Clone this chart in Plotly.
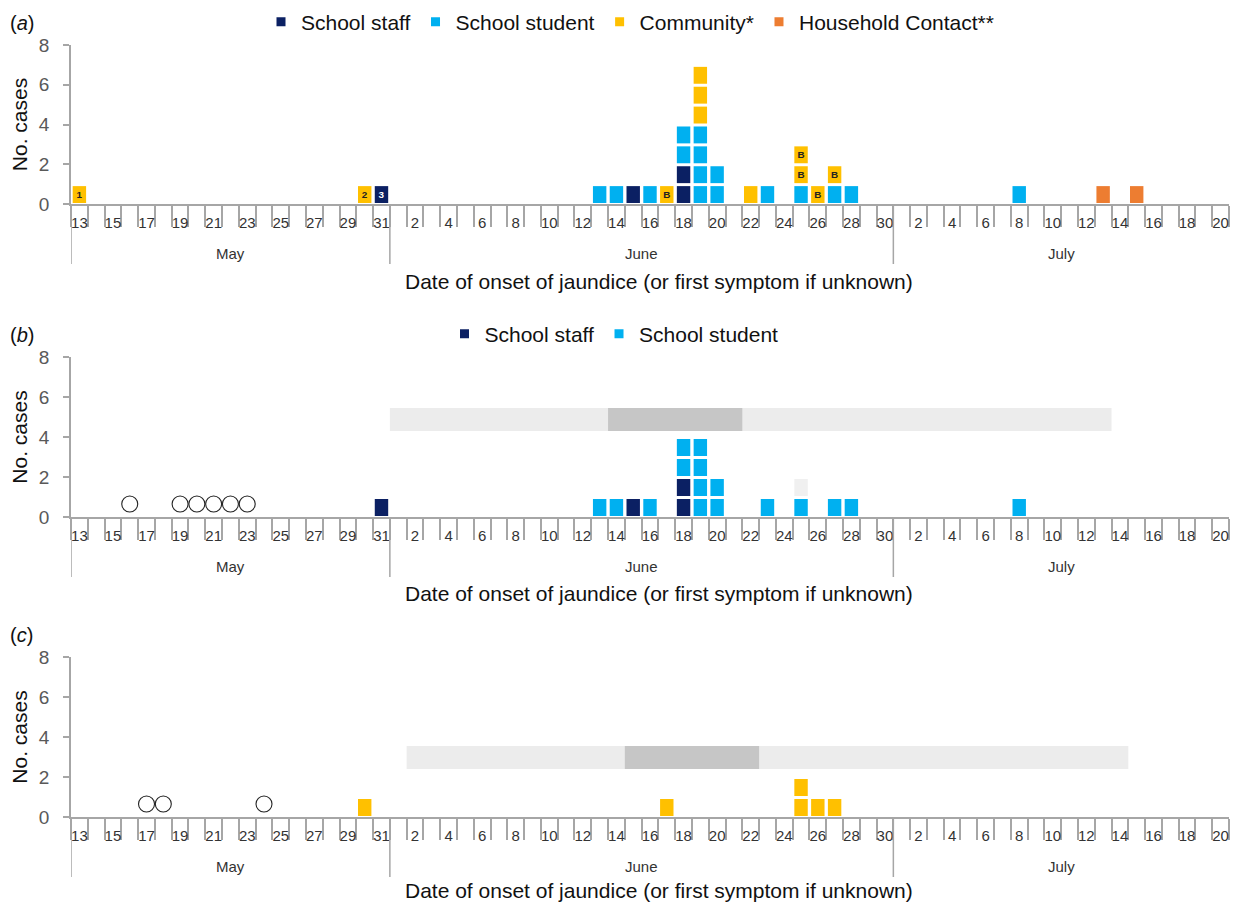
import plotly.graph_objects as go

# ---------------- categories (days) ----------------
MAY_DAYS = list(range(13, 32))
JUN_DAYS = list(range(1, 31))
JUL_DAYS = list(range(1, 21))
MONTH_NAMES = ["May", "June", "July"]

date_keys = ([f"May {d}" for d in MAY_DAYS] + [f"Jun {d}" for d in JUN_DAYS]
             + [f"Jul {d}" for d in JUL_DAYS])
day_labels = [str(d) for d in MAY_DAYS + JUN_DAYS + JUL_DAYS]
IDX = {k: i for i, k in enumerate(date_keys)}

# ---------------- panel (a) ----------------
a_staff_dates = ["May 31", "Jun 15", "Jun 18"]
a_staff_counts = [1, 1, 2]
a_staff_labels = ["3", "", ""]

a_student_dates = ["Jun 13", "Jun 14", "Jun 16", "Jun 18", "Jun 19", "Jun 20",
                   "Jun 23", "Jun 25", "Jun 27", "Jun 28", "Jul 8"]
a_student_counts = [1, 1, 1, 2, 4, 2, 1, 1, 1, 1, 1]

a_comm_dates = ["May 13", "May 30", "Jun 17", "Jun 19", "Jun 22", "Jun 25", "Jun 26", "Jun 27"]
a_comm_counts = [1, 1, 1, 3, 1, 2, 1, 1]
a_comm_labels = ["1", "2", "B", "", "", "BB", "B", "B"]

a_house_dates = ["Jul 13", "Jul 15"]
a_house_counts = [1, 1]

# ---------------- panel (b) ----------------
b_staff_dates = ["May 31", "Jun 15", "Jun 18"]
b_staff_counts = [1, 1, 2]
b_student_dates = ["Jun 13", "Jun 14", "Jun 16", "Jun 18", "Jun 19", "Jun 20",
                   "Jun 23", "Jun 25", "Jun 27", "Jun 28", "Jul 8"]
b_student_counts = [1, 1, 1, 2, 4, 2, 1, 1, 1, 1, 1]
b_unknown_dates = ["Jun 25"]
b_unknown_counts = [1]
b_circle_dates = ["May 16", "May 19", "May 20", "May 21", "May 22", "May 23"]
b_band_light = ["Jun 1", "Jul 13"]
b_band_dark = ["Jun 14", "Jun 21"]

# ---------------- panel (c) ----------------
c_comm_dates = ["May 30", "Jun 17", "Jun 25", "Jun 26", "Jun 27"]
c_comm_counts = [1, 1, 2, 1, 1]
c_circle_dates = ["May 17", "May 18", "May 24"]
c_band_light = ["Jun 2", "Jul 14"]
c_band_dark = ["Jun 15", "Jun 22"]

# ---------------- style ----------------
FONT = "Liberation Sans, Arial, sans-serif"
C_STAFF = "#0b2063"
C_STUDENT = "#00b0f0"
C_COMM = "#ffc000"
C_HOUSE = "#ed7d31"
C_UNKNOWN = "#f0f0f0"
C_LIGHT = "#ececec"
C_DARK = "#c6c6c6"
AXIS_C = "#a6a6a6"
W, H = 1236, 902
ML, MR = 71, 7
PW = W - ML - MR

UNIT_H = 0.85
UNIT_GAP = 0.05
BAR_W = 0.8
CIRCLE_Y = 0.65

# panel pixel geometry (top of y=8, y=0 line, x-title offset)
PANELS = [(45, 204, 77), (357, 517, 76), (657, 817, 73)]


def py(px):
    return 1 - px / H


def pxx(px):
    return (px - ML) / PW


fig = go.Figure()


def add_units(dates, counts, labels, color, offsets, ax, name, txtcolor="#222"):
    xs, bases, texts = [], [], []
    for i, (d, c) in enumerate(zip(dates, counts)):
        idx = IDX[d]
        lab = labels[i] if labels else ""
        start = offsets.get(idx, 0)
        for k in range(c):
            xs.append(idx)
            bases.append(start + k + UNIT_GAP)
            texts.append(lab[k] if k < len(lab) else "")
        offsets[idx] = start + c
    fig.add_trace(go.Bar(
        x=xs, y=[UNIT_H] * len(xs), base=bases, width=BAR_W,
        marker=dict(color=color, line=dict(width=0)),
        text=texts, textposition="inside", insidetextanchor="middle", textangle=0,
        textfont=dict(size=10, color=txtcolor, family=FONT, weight="bold"),
        name=name, showlegend=False, hoverinfo="skip",
        xaxis="x" + ax, yaxis="y" + ax,
    ))


def add_legend_entry(name, color, legend):
    fig.add_trace(go.Scatter(
        x=[None], y=[None], mode="markers", name=name,
        marker=dict(symbol="square", size=9, color=color),
        legend=legend, showlegend=True,
    ))


def add_circles(dates, ax):
    xs = [IDX[d] for d in dates]
    fig.add_trace(go.Scatter(
        x=xs, y=[CIRCLE_Y] * len(xs), mode="markers",
        marker=dict(symbol="circle-open", size=16, color="#222", line=dict(width=1.1)),
        showlegend=False, hoverinfo="skip", xaxis="x" + ax, yaxis="y" + ax,
    ))


band_shapes = []


def add_band(rng, y0, y1, color, ax):
    band_shapes.append(dict(type="rect", xref="x" + ax, yref="y" + ax,
                            x0=IDX[rng[0]] - 0.5, x1=IDX[rng[1]] + 0.5, y0=y0, y1=y1,
                            fillcolor=color, line=dict(width=0), layer="below"))


# panel a
off = {}
add_units(a_staff_dates, a_staff_counts, a_staff_labels, C_STAFF, off, "", "School staff", "white")
add_units(a_student_dates, a_student_counts, None, C_STUDENT, off, "", "School student")
add_units(a_comm_dates, a_comm_counts, a_comm_labels, C_COMM, off, "", "Community*")
add_units(a_house_dates, a_house_counts, None, C_HOUSE, off, "", "Household Contact**")
add_legend_entry("School staff", C_STAFF, "legend")
add_legend_entry("School student", C_STUDENT, "legend")
add_legend_entry("Community*", C_COMM, "legend")
add_legend_entry("Household Contact**", C_HOUSE, "legend")

# panel b
off = {}
add_units(b_staff_dates, b_staff_counts, None, C_STAFF, off, "2", "School staff")
add_units(b_student_dates, b_student_counts, None, C_STUDENT, off, "2", "School student")
add_units(b_unknown_dates, b_unknown_counts, None, C_UNKNOWN, off, "2", "")
add_circles(b_circle_dates, "2")
add_band(b_band_light, 4.3, 5.45, C_LIGHT, "2")
add_band(b_band_dark, 4.3, 5.45, C_DARK, "2")
add_legend_entry("School staff", C_STAFF, "legend2")
add_legend_entry("School student", C_STUDENT, "legend2")

# panel c
off = {}
add_units(c_comm_dates, c_comm_counts, None, C_COMM, off, "3", "Community*")
add_circles(c_circle_dates, "3")
add_band(c_band_light, 2.4, 3.55, C_LIGHT, "3")
add_band(c_band_dark, 2.4, 3.55, C_DARK, "3")

# axes
tickvals = list(range(0, len(date_keys), 2))
ticktext = [day_labels[i] for i in tickvals]
month_starts = [IDX["May 13"], IDX["Jun 1"], IDX["Jul 1"]]
month_ends = [IDX["May 31"], IDX["Jun 30"], IDX["Jul 20"]]

layout = dict(
    width=W, height=H, margin=dict(l=ML, r=MR, t=0, b=0, autoexpand=False),
    paper_bgcolor="white", plot_bgcolor="white",
    barmode="overlay", font=dict(family=FONT, color="#222"),
)
annotations = []
shapes = list(band_shapes)
for p, (top, bot, toff) in enumerate(PANELS):
    sfx = "" if p == 0 else str(p + 1)
    layout["xaxis" + sfx] = dict(
        domain=[0, 1], range=[-0.5, len(date_keys) - 0.5], anchor="y" + sfx,
        showline=True, linecolor=AXIS_C, linewidth=1.5, showgrid=False, zeroline=False,
        tickmode="array", tickvals=tickvals, ticktext=ticktext,
        ticks="outside", ticklen=0, tickcolor="white",
        ticklabelstandoff=4, ticklabeloverflow="allow",
        tickfont=dict(size=15, color="#333", family=FONT),
        minor=dict(ticks="outside", ticklen=21, tickcolor=AXIS_C, tickwidth=1.5,
                   tick0=-0.5, dtick=1, showgrid=False),
        automargin=False, fixedrange=True,
    )
    layout["yaxis" + sfx] = dict(
        domain=[py(bot), py(top)], range=[0, 8], anchor="x" + sfx,
        showline=True, linecolor=AXIS_C, linewidth=1.5, showgrid=False, zeroline=False,
        tickvals=[0, 2, 4, 6, 8], ticks="outside", ticklen=6, tickcolor=AXIS_C, tickwidth=1.5,
        ticklabelstandoff=10,
        tickfont=dict(size=19, color="#595959", family=FONT),
        title=dict(text="No. cases", font=dict(size=21, color="#111", family=FONT), standoff=6),
        automargin=False, fixedrange=True,
    )
    xa = "x" + sfx
    sep_bottom = bot + 60
    for s in month_starts:
        shapes.append(dict(type="line", xref=xa, yref="paper", x0=s - 0.5, x1=s - 0.5,
                           y0=py(bot), y1=py(sep_bottom), line=dict(color=AXIS_C, width=1.5)))
    for name, s, e in zip(MONTH_NAMES, month_starts, month_ends):
        annotations.append(dict(text=name, xref=xa, yref="paper", x=(s + e) / 2,
                                y=py(bot + 49), yanchor="middle", showarrow=False,
                                font=dict(size=15, color="#333", family=FONT)))
    annotations.append(dict(text="Date of onset of jaundice (or first symptom if unknown)",
                            xref="paper", yref="paper", x=pxx(659), y=py(bot + toff),
                            xanchor="center", yanchor="middle", showarrow=False,
                            font=dict(size=21, color="#111", family=FONT)))
    annotations.append(dict(text="(<i>" + "abc"[p] + "</i>)", xref="paper", yref="paper",
                            x=pxx(8), y=py(top - 22), xanchor="left", yanchor="middle",
                            showarrow=False, font=dict(size=20, color="#111", family=FONT)))

layout["legend"] = dict(orientation="h", x=pxx(630), xanchor="center", y=py(22), yanchor="middle",
                        font=dict(size=21, color="#111", family=FONT), itemwidth=30,
                        bgcolor="rgba(0,0,0,0)")
layout["legend2"] = dict(orientation="h", x=pxx(614), xanchor="center", y=py(334), yanchor="middle",
                         font=dict(size=21, color="#111", family=FONT), itemwidth=30,
                         bgcolor="rgba(0,0,0,0)")
layout["annotations"] = annotations
layout["shapes"] = shapes
fig.update_layout(**layout)

fig.write_html("out.html", config={"displayModeBar": False},
               post_script="document.body.style.margin='0px';document.body.style.overflow='hidden';")
